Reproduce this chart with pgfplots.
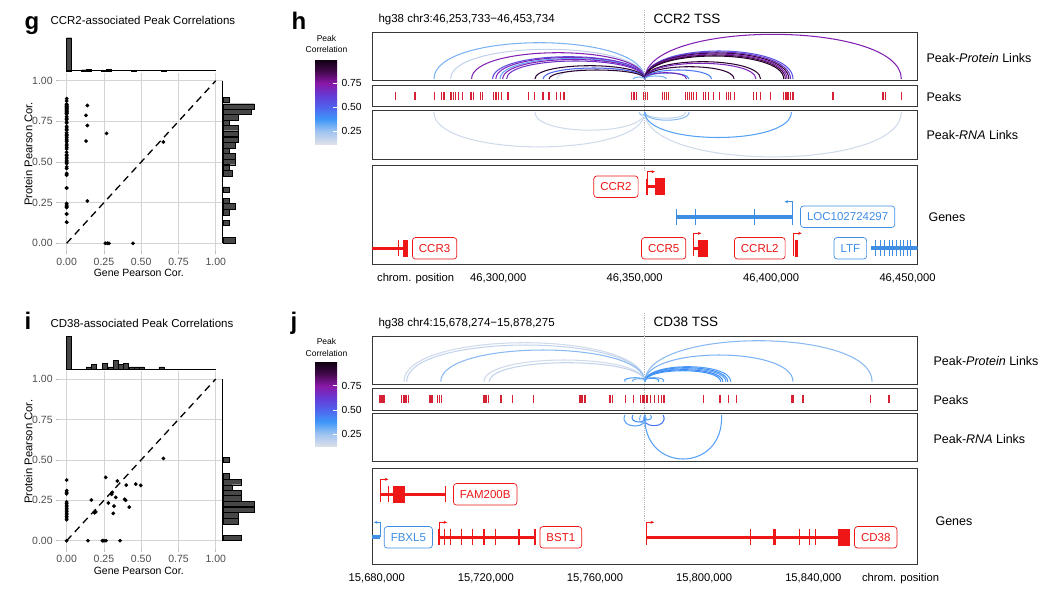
\documentclass[border=0pt]{standalone}
\usepackage{fontspec}
\setmainfont{Liberation Sans}
\usepackage{pgfplots}
\pgfplotsset{compat=1.18}
\usetikzlibrary{arrows.meta}

\definecolor{gred}{RGB}{238,22,22}
\definecolor{gblue}{RGB}{62,142,228}
\definecolor{pkred}{RGB}{212,34,52}
\definecolor{frame}{RGB}{55,55,55}
\definecolor{ticktext}{RGB}{77,77,77}
\definecolor{tssgray}{RGB}{185,185,185}

\pgfplotsset{
  colormap={corr}{rgb255(12pt)=(221,224,233) rgb255(25pt)=(160,196,240) rgb255(38pt)=(61,150,248)
    rgb255(50pt)=(80,100,238) rgb255(62pt)=(100,60,214) rgb255(75pt)=(138,24,168)
    rgb255(88pt)=(64,8,72) rgb255(100pt)=(13,0,15)},
  sc/.style={scale only axis, anchor=south west, width=164pt, height=178.8pt,
    xmin=-0.05, xmax=1.05, ymin=-0.05, ymax=1.05,
    axis line style={draw=none},
    xtick={0,0.25,0.5,0.75,1}, ytick={0,0.25,0.5,0.75,1},
    xticklabels={0.00,0.25,0.50,0.75,1.00}, yticklabels={0.00,0.25,0.50,0.75,1.00},
    grid=major, grid style={black!17, line width=0.7pt},
    tick pos=left, tick align=outside, major tick length=3pt,
    tick style={black!25, line width=0.7pt},
    ticklabel style={font=\fontsize{10.5}{12}\selectfont, text=ticktext},
    xlabel={Gene Pearson Cor.}, ylabel={Protein Pearson Cor.},
    xlabel style={font=\fontsize{10.5}{12}\selectfont, at={(axis description cs:0.485,-0.1225)}, anchor=center},
    ylabel style={font=\fontsize{11.2}{13}\selectfont, at={(axis description cs:-0.188,0.545)}, anchor=center}},
  hist/.style={scale only axis, anchor=south west, hide axis, clip=false},
  trk/.style={scale only axis, anchor=south west, width=545.7pt, xmin=-100, xmax=100,
    axis line style={draw=frame, line width=0.9pt}, xtick=\empty, ytick=\empty},
  cbar/.style={scale only axis, anchor=south west, width=22pt, hide axis,
    xmin=0, xmax=1, ymin=0, ymax=1, colormap name=corr,
    point meta min=0.12, point meta max=1, colorbar, colorbar/width=22pt,
    colorbar style={at={(parent axis.south west)}, anchor=south west, xshift=-8.5pt, scale only axis,
      ytick={0.25,0.5,0.75}, yticklabels={0.25,0.50,0.75},
      yticklabel pos=right, ytick pos=right, tick align=inside, major tick length=4.5pt,
      ytick style={white, line width=0.8pt}, axis line style={draw=none},
      yticklabel style={font=\fontsize{10.3}{12}\selectfont, xshift=1pt}}},
  genes/.style={trk, y dir=reverse, xtick style={draw=none},
    xticklabel style={font=\fontsize{11.2}{13}\selectfont, yshift=-6pt}},
}
\tikzset{lbl/.style={draw=#1, text=#1, fill=white, rounded corners=3pt, line width=0.7pt,
  inner xsep=6.5pt, inner ysep=0pt, minimum height=21.5pt, font=\fontsize{11.5}{13}\selectfont}}

% link arc: from, to (kb from TSS), height (px), bulge (kb), correlation
\newcommand\lnk[5]{%
  \pgfmathsetmacro\cv{min(1000,max(0,(#5-0.12)/0.88*1000))}%
  \edef\tmp{\noexpand\draw[line width=1.05pt, color of colormap={\cv\space of corr}]
    (axis cs:#1,0) .. controls (axis cs:#1-#4,1.333*#3) and (axis cs:#2+#4,1.333*#3) .. (axis cs:#2,0);}%
  \tmp}

\begin{document}
\begin{tikzpicture}
\path[use as bounding box] (0,0) rectangle (1043pt,-590pt);

% ================= panel g =================
\node[anchor=base west, font=\fontsize{24}{26}\selectfont\bfseries] at (21pt,-29.3pt) {g};
\node[anchor=west, font=\fontsize{11.5}{13}\selectfont] at (47pt,-20pt) {CCR2-associated Peak Correlations};
\begin{axis}[sc, at={(59.2pt,-251.4pt)}]
\addplot[black, line width=1.3pt, dash pattern=on 7pt off 5pt] coordinates {(0,0) (1,1)};
\addplot[only marks, mark=*, mark size=1.7pt, black] coordinates {
(0,0.13)(0,0.13)(0,0.18)(0,0.18)(0,0.22)(0,0.225)(0,0.23)(0,0.235)(0,0.245)
(0,0.34)(0,0.34)(0,0.42)(0,0.42)(0,0.43)(0,0.46)(0,0.47)
(0,0.49)(0,0.50)(0,0.50)(0,0.51)(0,0.52)(0,0.53)(0,0.54)(0,0.545)
(0,0.56)(0,0.58)(0,0.59)(0,0.60)(0,0.61)(0,0.625)(0,0.63)(0,0.64)(0,0.65)
(0,0.66)(0,0.665)(0,0.67)(0,0.68)(0,0.695)(0,0.70)(0,0.71)(0,0.72)
(0,0.74)(0,0.745)(0,0.76)(0,0.765)(0,0.77)(0,0.78)
(0,0.795)(0,0.80)(0,0.80)(0,0.805)(0,0.81)(0,0.81)(0,0.815)(0,0.82)(0,0.825)
(0,0.83)(0,0.83)(0,0.835)(0,0.84)(0,0.84)(0,0.845)(0,0.85)(0,0.855)(0,0.855)
(0,0.875)(0,0.89)
(0.139,0.848)(0.130,0.787)(0.139,0.725)(0.130,0.629)(0.268,0.676)(0.649,0.623)(0.139,0.260)
(0.260,0)(0.273,0)(0.284,0)(0.445,0)};
\end{axis}
\begin{axis}[hist, at={(59.2pt,-70.7pt)}, width=164pt, height=33pt, xmin=-0.05, xmax=1.05, ymin=0, ymax=67]
\addplot[ybar, bar width=0.0333, fill=black!72, draw=black, line width=0.4pt] coordinates {
(0.0167,67)(0.1167,2)(0.15,3)(0.25,1)(0.2833,3)(0.45,1)(0.65,1)};
\addplot[black, line width=0.5pt] coordinates {(0,0) (1,0)};
\end{axis}
\begin{axis}[hist, at={(222.7pt,-251.4pt)}, width=31.7pt, height=178.8pt, xmin=0, xmax=10, ymin=-0.05, ymax=1.05]
\addplot[xbar, bar width=0.0333, fill=black!72, draw=black, line width=0.4pt] coordinates {
(4,0.018)(2,0.125)(2,0.192)(4,0.227)(2,0.261)(2,0.330)(3,0.432)(2,0.467)(4,0.500)(4,0.535)
(2,0.571)(4,0.603)(5,0.637)(5,0.673)(5,0.709)(2,0.743)(5,0.776)(9,0.808)(10,0.842)(2,0.883)};
\addplot[black, line width=0.5pt] coordinates {(0,0) (0,1)};
\end{axis}

% ================= panel i =================
\node[anchor=base west, font=\fontsize{24}{26}\selectfont\bfseries] at (21pt,-329.3pt) {i};
\node[anchor=west, font=\fontsize{11.5}{13}\selectfont] at (47pt,-323.3pt) {CD38-associated Peak Correlations};
\begin{axis}[sc, at={(59.2pt,-548.8pt)}, height=177.9pt]
\addplot[black, line width=1.3pt, dash pattern=on 7pt off 5pt] coordinates {(0,0) (1,1)};
\addplot[only marks, mark=*, mark size=1.7pt, black] coordinates {
(0,0)(0,0.13)(0,0.14)(0,0.15)(0,0.16)(0,0.17)(0,0.18)(0,0.19)(0,0.20)(0,0.21)(0,0.22)
(0,0.23)(0,0.24)(0,0.29)(0,0.30)(0,0.31)(0,0.375)
(0.649,0.509)(0.262,0.392)(0.340,0.369)(0.400,0.344)(0.463,0.350)(0.497,0.342)
(0.306,0.299)(0.302,0.287)(0.329,0.268)(0.389,0.256)(0.396,0.250)(0.166,0.252)
(0.280,0.233)(0.318,0.214)(0.420,0.208)(0.188,0.173)(0.195,0.178)(0.313,0.169)
(0.143,0)(0.240,0)(0.250,0)(0.264,0)(0.358,0)};
\end{axis}
\begin{axis}[hist, at={(59.2pt,-369pt)}, width=164pt, height=33pt, xmin=-0.05, xmax=1.05, ymin=0, ymax=30]
\addplot[ybar, bar width=0.0333, fill=black!72, draw=black, line width=0.4pt] coordinates {
(0.0168,30)(0.151,2)(0.182,4)(0.257,5)(0.293,2)(0.328,8)(0.362,4)(0.398,5)(0.434,2)(0.47,2)(0.503,2)(0.635,2)};
\addplot[black, line width=0.5pt] coordinates {(0,0) (1,0)};
\end{axis}
\begin{axis}[hist, at={(222.7pt,-548.8pt)}, width=31.3pt, height=177.9pt, xmin=0, xmax=10, ymin=-0.05, ymax=1.05]
\addplot[xbar, bar width=0.0333, fill=black!72, draw=black, line width=0.4pt] coordinates {
(6,0.0175)(5,0.121)(5,0.157)(10,0.193)(10,0.228)(6,0.262)(6,0.296)(3,0.329)(6,0.363)(2,0.399)(2,0.501)};
\addplot[black, line width=0.5pt] coordinates {(0,0) (0,1)};
\end{axis}

% ================= panel h =================
\node[anchor=base west, font=\fontsize{24}{26}\selectfont\bfseries] at (288pt,-29.3pt) {h};
\node[anchor=west, font=\fontsize{11.5}{13}\selectfont] at (375pt,-20pt) {hg38 chr3:46,253,733−46,453,734};
\node[anchor=west, font=\fontsize{13.5}{15}\selectfont] at (650pt,-19pt) {CCR2 TSS};
\node[align=center, font=\fontsize{8.5}{11}\selectfont] at (326.5pt,-44.2pt) {Peak\\Correlation};
\begin{axis}[cbar, at={(315pt,-144pt)}, height=85pt, colorbar style={height=85pt}]
\end{axis}
\node[anchor=west, font=\fontsize{12.5}{14}\selectfont] at (923pt,-57.7pt) {Peak-\textit{Protein} Links};
\node[anchor=west, font=\fontsize{12.5}{14}\selectfont] at (923pt,-96.7pt) {Peaks};
\node[anchor=west, font=\fontsize{12.5}{14}\selectfont] at (923pt,-135.3pt) {Peak-\textit{RNA} Links};
\node[anchor=west, font=\fontsize{12.5}{14}\selectfont] at (925pt,-216.7pt) {Genes};

\begin{axis}[trk, at={(372pt,-80.7pt)}, height=48pt, ymin=-1.7, ymax=46.3, clip=false]
\draw[tssgray, densely dotted, line width=0.8pt] (axis cs:0,69) -- (axis cs:0,-92);
\lnk{-77.3}{0}{36.3}{0}{0.30}
\lnk{-71.2}{0}{29.7}{0}{0.18}
\lnk{-63.5}{0}{26.3}{0}{0.72}
\lnk{-55.8}{0}{22.3}{0}{0.58}
\lnk{-54.6}{0}{21.5}{0}{0.70}
\lnk{-53.1}{0}{20.5}{0}{0.33}
\lnk{-52.1}{0}{19.5}{0}{0.72}
\lnk{-50.7}{0}{18.0}{0}{0.66}
\lnk{-32.3}{0}{10.5}{0}{0.15}
\lnk{-40.3}{0}{13.3}{0}{0.93}
\lnk{-37.3}{0}{11.0}{0}{0.50}
\lnk{-35.1}{0}{9.0}{0}{0.93}
\lnk{-4.3}{0}{2.0}{0}{0.30}
\lnk{0}{94.0}{44.7}{0}{0.72}
\lnk{0}{54.3}{28}{0}{0.55}
\lnk{0}{53.4}{27}{0}{0.65}
\lnk{0}{52.75}{26}{0}{0.90}
\lnk{0}{52.1}{25}{0}{0.72}
\lnk{0}{51.5}{24}{0}{0.85}
\lnk{0}{50.9}{23}{0}{0.95}
\lnk{0}{42.4}{17.3}{0}{0.93}
\lnk{0}{40.7}{15.7}{0}{0.70}
\lnk{0}{32.7}{12.3}{0}{0.92}
\lnk{0}{24.4}{9}{0}{0.45}
\lnk{0}{16.2}{6}{0}{0.40}
\lnk{0}{15.3}{6.3}{0}{0.70}
\lnk{0}{7.9}{3}{0}{0.30}
\end{axis}

\begin{axis}[trk, at={(372pt,-106.7pt)}, height=21.7pt, ymin=-1, ymax=1]
\addplot[pkred, only marks, mark=|, mark size=4pt, mark options={line width=1.2pt}] coordinates {
(-91.32,0)(-84.25,0)(-77.18,0)(-74.47,0)(-73.63,0)(-71.06,0)(-70.22,0)(-69.34,0)(-68.39,0)(-66.78,0)
(-63.74,0)(-62.89,0)(-60.33,0)(-59.45,0)(-55.57,0)(-54.58,0)(-53.59,0)(-52.49,0)(-50.18,0)(-42.60,0)
(-40.40,0)(-37.36,0)(-35.16,0)(-32.34,0)(-30.88,0)(-29.67,0)(-4.87,0)(-4.29,0)(-3.66,0)(-3.04,0)
(-0.62,0)(0.26,0)(0.99,0)(6.48,0)(7.33,0)(7.95,0)(8.53,0)(15.02,0)(15.64,0)(16.23,0)
(17.11,0)(17.95,0)(18.94,0)(21.61,0)(22.34,0)(23.19,0)(25.02,0)(27.22,0)(29.93,0)(30.51,0)
(31.39,0)(32.71,0)(39.93,0)(40.92,0)(42.38,0)(46.04,0)(50.92,0)(51.54,0)(52.12,0)(52.75,0)
(53.37,0)(54.32,0)(68.97,0)(87.29,0)(88.28,0)(94.03,0)};
\end{axis}

\begin{axis}[trk, at={(372pt,-159.3pt)}, height=48.6pt, y dir=reverse, ymin=-1.5, ymax=47.1]
\lnk{-77.3}{0}{34.7}{0}{0.15}
\lnk{-40.3}{0}{18}{0}{0.15}
\lnk{0}{94.0}{44.7}{0}{0.15}
\lnk{-2}{0}{3}{0}{0.25}
\lnk{0}{15.0}{6}{0}{0.18}
\lnk{0}{16.2}{8}{0}{0.28}
\lnk{0}{53.7}{25.3}{0}{0.35}
\end{axis}

\begin{axis}[genes, at={(372pt,-264.3pt)}, height=98.6pt, ymin=0, ymax=98.6,
  xtick={-84.0,-53.73,-3.73,46.27,96.27},
  xticklabels={chrom. position,{46,300,000},{46,350,000},{46,400,000},{46,450,000}}]
% CCR2
\addplot[gred, line width=3.5pt] coordinates {(0.81,21) (7.40,21)};
\addplot[gred, line width=17pt] coordinates {(3.77,21) (7.40,21)};
\addplot[gred, only marks, mark=|, mark size=8pt, mark options={line width=1.2pt}] coordinates {(0.81,21)};
\addplot[gred, line width=0.8pt, -{Stealth[length=3.5pt,width=3pt]}] coordinates {(0.81,21) (0.81,6) (3.7,6)};
% LOC102724297
\addplot[gblue, line width=4pt] coordinates {(11.69,51) (54.10,51)};
\addplot[gblue, only marks, mark=|, mark size=8pt, mark options={line width=0.8pt}] coordinates {(11.69,51)(18.64,51)(40.07,51)(54.10,51)};
\addplot[gblue, line width=0.8pt, -{Stealth[length=3.5pt,width=3pt]}] coordinates {(54.10,51) (54.10,36) (51.2,36)};
% CCR3
\addplot[gred, line width=3.5pt] coordinates {(-100,82.6) (-86.96,82.6)};
\addplot[gred, line width=17pt] coordinates {(-88.61,82.6) (-86.96,82.6)};
\addplot[gred, only marks, mark=|, mark size=8pt, mark options={line width=1.2pt}] coordinates {(-90.26,82.6)};
% CCR5
\addplot[gred, line width=3.5pt] coordinates {(17.80,82.6) (23.26,82.6)};
\addplot[gred, line width=17pt] coordinates {(19.45,82.6) (23.26,82.6)};
\addplot[gred, only marks, mark=|, mark size=8pt, mark options={line width=1.2pt}] coordinates {(17.80,82.6)};
\addplot[gred, line width=0.8pt, -{Stealth[length=3.5pt,width=3pt]}] coordinates {(17.80,82.6) (17.80,67.6) (20.7,67.6)};
% CCRL2
\addplot[gred, line width=17pt] coordinates {(54.95,82.6) (56.26,82.6)};
\addplot[gred, only marks, mark=|, mark size=8pt, mark options={line width=1.2pt}] coordinates {(54.62,82.6)};
\addplot[gred, line width=0.8pt, -{Stealth[length=3.5pt,width=3pt]}] coordinates {(54.62,82.6) (54.62,67.6) (57.5,67.6)};
% LTF
\addplot[gblue, line width=4pt] coordinates {(82.97,82.6) (100,82.6)};
\addplot[gblue, only marks, mark=|, mark size=8pt, mark options={line width=0.8pt}] coordinates {
(84.58,82.6)(86.23,82.6)(87.88,82.6)(89.52,82.6)(90.84,82.6)(92.16,82.6)(93.48,82.6)(94.80,82.6)(96.12,82.6)(97.44,82.6)};
\node[lbl=gred] at (axis cs:-10.59,21) {CCR2};
\node[lbl=gblue] at (axis cs:74.32,51) {LOC102724297};
\node[lbl=gred] at (axis cs:-77.07,82.6) {CCR3};
\node[lbl=gred] at (axis cs:6.90,82.6) {CCR5};
\node[lbl=gred] at (axis cs:42.12,82.6) {CCRL2};
\node[lbl=gblue] at (axis cs:75.31,82.6) {LTF};
\end{axis}

% ================= panel j =================
\node[anchor=base west, font=\fontsize{24}{26}\selectfont\bfseries] at (287pt,-329.3pt) {j};
\node[anchor=west, font=\fontsize{11.5}{13}\selectfont] at (375pt,-324pt) {hg38 chr4:15,678,274−15,878,275};
\node[anchor=west, font=\fontsize{13.5}{15}\selectfont] at (650pt,-322.3pt) {CD38 TSS};
\node[align=center, font=\fontsize{8.5}{11.5}\selectfont] at (326.5pt,-347.7pt) {Peak\\Correlation};
\begin{axis}[cbar, at={(315pt,-446.7pt)}, height=85pt, colorbar style={height=85pt}]
\end{axis}
\node[anchor=west, font=\fontsize{12.5}{14}\selectfont] at (930pt,-361pt) {Peak-\textit{Protein} Links};
\node[anchor=west, font=\fontsize{12.5}{14}\selectfont] at (930pt,-400pt) {Peaks};
\node[anchor=west, font=\fontsize{12.5}{14}\selectfont] at (930pt,-439pt) {Peak-\textit{RNA} Links};
\node[anchor=west, font=\fontsize{12.5}{14}\selectfont] at (932pt,-521pt) {Genes};

\begin{axis}[trk, at={(372pt,-384.7pt)}, height=48.7pt, ymin=-3, ymax=45.7, clip=false]
\draw[tssgray, densely dotted, line width=0.8pt] (axis cs:0,68.7) -- (axis cs:0,-139.3);
\lnk{-88.3}{0}{39}{0}{0.15}
\lnk{-87.3}{0}{36.7}{0}{0.18}
\lnk{-74.8}{0}{31.7}{0}{0.28}
\lnk{-59.0}{0}{21.7}{0}{0.15}
\lnk{-57.0}{0}{19}{0}{0.18}
\lnk{0}{83.3}{41}{0}{0.28}
\lnk{0}{54.3}{26.7}{0}{0.30}
\lnk{0}{31.5}{15}{0}{0.36}
\lnk{0}{30.4}{14}{0}{0.40}
\lnk{0}{29.7}{13}{0}{0.34}
\lnk{0}{28.6}{12}{0}{0.42}
\lnk{0}{27.8}{11}{0}{0.38}
\lnk{-7.2}{0}{4}{2}{0.35}
\lnk{-4.3}{0}{3}{1.5}{0.30}
\lnk{0}{4.9}{3.5}{1.5}{0.38}
\lnk{0}{6.7}{4}{2}{0.33}
\end{axis}

\begin{axis}[trk, at={(372pt,-410pt)}, height=21.7pt, ymin=-1, ymax=1]
\addplot[pkred, only marks, mark=|, mark size=4pt, mark options={line width=1.2pt}] coordinates {
(-97.07,0)(-96.34,0)(-95.60,0)(-89.12,0)(-88.53,0)(-87.91,0)(-87.29,0)(-86.70,0)(-79.01,0)(-78.39,0)
(-77.77,0)(-76.08,0)(-75.35,0)(-74.47,0)(-58.97,0)(-58.24,0)(-57.40,0)(-52.75,0)(-48.46,0)(-40.92,0)
(-24.07,0)(-23.44,0)(-22.82,0)(-22.23,0)(-21.61,0)(-13.08,0)(-12.45,0)(-11.83,0)(-7.22,0)(-4.29,0)
(-1.47,0)(-0.99,0)(-0.48,0)(0,0)(0.48,0)(0.99,0)(2.09,0)(3.41,0)(4.87,0)(6.12,0)
(6.70,0)(7.33,0)(21.36,0)(27.22,0)(27.84,0)(30.51,0)(33.59,0)(53.74,0)(54.32,0)(57.98,0)
(82.67,0)(89.49,0)};
\end{axis}

\begin{axis}[trk, at={(372pt,-461.7pt)}, height=48.4pt, y dir=reverse, ymin=-1.7, ymax=46.7]
\lnk{0}{28.1}{44}{1}{0.35}
\lnk{0}{6.7}{10.7}{2.5}{0.45}
\lnk{-7.3}{0}{11}{2.5}{0.35}
\lnk{-4.4}{0}{7}{2}{0.40}
\lnk{-1.5}{0}{8}{2}{0.30}
\lnk{0}{2.1}{5}{1.5}{0.35}
\end{axis}

\begin{axis}[genes, at={(372pt,-564.3pt)}, height=96pt, ymin=0, ymax=96,
  xtick={-98.27,-58.27,-18.27,21.73,61.73,93.7},
  xticklabels={{15,680,000},{15,720,000},{15,760,000},{15,800,000},{15,840,000},chrom. position}]
% FAM200B
\addplot[gred, line width=3.5pt] coordinates {(-96.89,26) (-72.93,26)};
\addplot[gred, line width=17pt] coordinates {(-92.24,26) (-87.80,26)};
\addplot[gred, only marks, mark=|, mark size=8pt, mark options={line width=1.2pt}] coordinates {(-96.89,26)(-93.92,26)(-72.93,26)};
\addplot[gred, line width=0.8pt, -{Stealth[length=3.5pt,width=3pt]}] coordinates {(-96.89,26) (-96.89,11) (-94.0,11)};
% FBXL5
\addplot[gblue, line width=4pt] coordinates {(-100,69) (-96.89,69)};
\addplot[gblue, line width=0.8pt, -{Stealth[length=3.5pt,width=3pt]}] coordinates {(-96.89,69) (-96.89,54) (-99.3,54)};
% BST1
\addplot[gred, line width=3.5pt] coordinates {(-75.42,69) (-40.29,69)};
\addplot[gred, only marks, mark=|, mark size=8pt, mark options={line width=1.2pt}] coordinates {
(-75.42,69)(-73.44,69)(-71.28,69)(-67.18,69)(-63.04,69)(-58.94,69)(-54.80,69)(-40.29,69)};
\addplot[gred, only marks, mark=|, mark size=8pt, mark options={line width=2.5pt}] coordinates {(-46.04,69)};
\addplot[gred, line width=0.8pt, -{Stealth[length=3.5pt,width=3pt]}] coordinates {(-75.42,69) (-75.42,54) (-72.5,54)};
% CD38
\addplot[gred, line width=3.5pt] coordinates {(0.48,69) (75.24,69)};
\addplot[gred, line width=17pt] coordinates {(70.92,69) (75.24,69)};
\addplot[gred, only marks, mark=|, mark size=8pt, mark options={line width=1.2pt}] coordinates {
(0.48,69)(38.75,69)(56.59,69)(60.37,69)(62.67,69)};
\addplot[gred, only marks, mark=|, mark size=8pt, mark options={line width=2.5pt}] coordinates {(47.51,69)};
\addplot[gred, line width=0.8pt, -{Stealth[length=3.5pt,width=3pt]}] coordinates {(0.48,69) (0.48,54) (3.4,54)};
\node[lbl=gred] at (axis cs:-58.5,26) {FAM200B};
\node[lbl=gblue] at (axis cs:-86.68,69) {FBXL5};
\node[lbl=gred] at (axis cs:-30.81,69) {BST1};
\node[lbl=gred] at (axis cs:84.62,69) {CD38};
\end{axis}

\end{tikzpicture}
\end{document}
